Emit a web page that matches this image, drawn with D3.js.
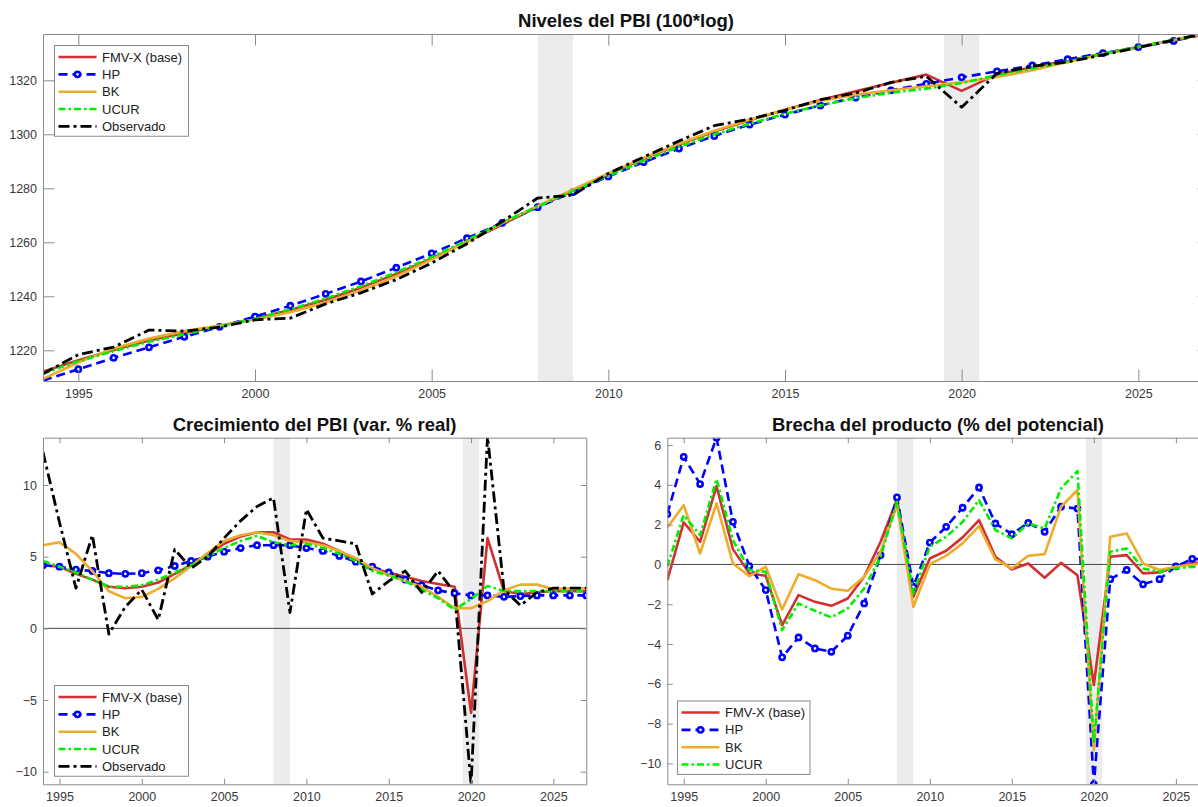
<!DOCTYPE html>
<html>
<head>
<meta charset="utf-8">
<script src="https://cdn.jsdelivr.net/npm/d3@7"></script>
<style>
  body { margin: 0; background: #fff; }
  svg { display: block; font-family: "Liberation Sans", Arial, sans-serif; }
  .tick text { fill: #3a3a3a; font-size: 12.5px; }
</style>
</head>
<body>
<div id="chart"></div>
<script>

// years on the x axis
var years = d3.range(1994, 2028);
var xTicks = [1995, 2000, 2005, 2010, 2015, 2020, 2025];
var shadeSpans = [[2008, 2009], [2019.5, 2020.5]];

// levels (100*log)
var lvlFmv  = [1212.1,1216.3,1220.1,1223.6,1226.3,1229.0,1231.8,1234.9,1238.7,1243.2,1248.3,1254.0,1260.2,1266.6,1273.1,1279.1,1285.2,1290.9,1296.2,1301.0,1305.2,1309.1,1312.7,1315.9,1319.1,1322.1,1316.1,1322.2,1324.8,1327.3,1329.8,1332.3,1334.8,1337.6];
var lvlHp   = [1208.8,1213.0,1217.2,1221.1,1225.0,1228.7,1232.5,1236.5,1240.9,1245.5,1250.6,1255.9,1261.5,1267.2,1273.0,1278.6,1284.4,1289.7,1294.7,1299.4,1303.6,1307.3,1310.7,1313.6,1316.3,1318.7,1321.1,1323.3,1325.5,1327.8,1330.1,1332.3,1334.6,1337.4];
var lvlBk   = [1209.4,1215.5,1220.7,1224.4,1227.1,1229.2,1231.4,1234.1,1237.7,1242.1,1247.4,1253.6,1260.2,1267.1,1273.4,1279.6,1285.5,1291.2,1296.5,1301.3,1305.4,1309.1,1312.3,1314.7,1316.3,1317.8,1319.3,1321.2,1323.7,1326.8,1329.7,1332.3,1334.9,1337.6];
var lvlUcur = [1211.4,1216.0,1219.7,1223.2,1225.9,1228.9,1231.6,1235.2,1239.2,1243.7,1248.9,1254.5,1260.8,1267.3,1273.3,1279.0,1284.6,1290.2,1295.4,1300.0,1303.9,1307.6,1310.7,1313.4,1315.4,1316.9,1319.0,1321.9,1324.4,1327.0,1329.8,1332.4,1335.0,1337.8];
var lvlObs  = [1211.3,1218.4,1221.2,1227.5,1227.1,1228.6,1231.3,1231.9,1237.2,1241.3,1246.2,1252.3,1259.5,1267.7,1276.4,1277.5,1285.5,1291.6,1297.5,1303.2,1305.6,1308.9,1312.8,1315.3,1319.2,1321.5,1310.0,1322.6,1325.2,1326.8,1329.4,1332.2,1334.9,1337.7];

// growth (var. % real)
var grFmv  = [4.4,4.3,3.8,3.4,2.9,2.8,2.9,3.2,3.8,4.4,5.1,5.9,6.4,6.7,6.7,6.2,6.2,5.9,5.4,4.7,4.2,3.9,3.6,3.3,3.1,2.9,-5.9,6.3,2.6,2.4,2.5,2.6,2.6,2.6];
var grHp   = [4.4,4.3,4.1,4.0,3.85,3.8,3.85,4.05,4.35,4.7,5.0,5.35,5.6,5.8,5.8,5.8,5.6,5.4,5.05,4.65,4.3,3.9,3.4,3.0,2.65,2.45,2.3,2.3,2.2,2.25,2.3,2.3,2.3,2.3];
var grBk   = [5.8,6.0,5.2,4.0,2.6,2.1,2.2,2.75,3.5,4.35,5.25,6.1,6.5,6.7,6.5,6.1,6.0,5.8,5.4,4.9,4.2,3.7,3.3,2.9,2.2,1.4,1.4,1.9,2.65,3.05,3.05,2.75,2.8,2.8];
var grUcur = [4.7,4.3,3.9,3.4,2.9,2.9,3.0,3.4,3.9,4.4,5.0,5.6,6.1,6.45,6.0,5.8,5.9,5.6,5.2,4.7,4.0,3.7,3.3,2.7,2.1,1.3,2.05,2.95,2.6,2.6,2.6,2.6,2.6,2.6];
var grObs  = [12.3,7.4,2.8,6.5,-0.4,1.5,2.7,0.6,5.5,4.2,5.0,6.3,7.5,8.5,9.1,1.1,8.3,6.3,6.1,5.9,2.4,3.3,4.0,2.5,4.0,2.5,-10.9,13.4,2.7,1.6,2.5,2.8,2.8,2.8];

// output gap (% del potencial)
var gapFmv  = [-0.79,2.11,1.14,3.94,0.77,-0.45,-0.57,-3.05,-1.54,-1.88,-2.08,-1.71,-0.62,1.14,3.27,-1.62,0.30,0.69,1.36,2.23,0.39,-0.25,0.05,-0.67,0.08,-0.54,-6.06,0.39,0.47,-0.45,-0.40,-0.12,0.08,0.10];
var gapHp   = [2.53,5.41,4.04,6.37,2.14,-0.08,-1.29,-4.67,-3.67,-4.22,-4.39,-3.58,-1.96,0.47,3.37,-1.12,1.10,1.89,2.85,3.87,2.06,1.52,2.09,1.64,2.90,2.81,-11.05,-0.74,-0.28,-1.00,-0.74,-0.10,0.28,0.25];
var gapBk   = [1.86,2.98,0.55,3.07,0.05,-0.59,-0.12,-2.26,-0.49,-0.79,-1.22,-1.32,-0.62,0.64,2.98,-2.13,0.00,0.44,1.06,1.93,0.25,-0.20,0.44,0.52,2.90,3.74,-9.33,1.39,1.56,0.05,-0.28,-0.12,0.00,0.05];
var gapUcur = [-0.10,2.48,1.47,4.29,1.22,-0.28,-0.37,-3.30,-1.96,-2.33,-2.66,-2.21,-1.21,0.39,3.15,-1.46,0.89,1.39,2.14,3.23,1.73,1.31,2.06,1.81,3.82,4.69,-9.00,0.64,0.80,-0.20,-0.37,-0.20,-0.12,-0.10];

var styles = {
  "FMV-X (base)": {color: "#d0302f", dash: null, width: 2.6},
  "HP":           {color: "#0000ff", dash: "9,5", width: 2.6, marker: true},
  "BK":           {color: "#efab2c", dash: null, width: 2.6},
  "UCUR":         {color: "#00ee00", dash: "7,3,2.5,3", width: 2.6},
  "Observado":    {color: "#000000", dash: "11,4,3,4", width: 2.8}
};

var svg = d3.select("#chart").append("svg")
  .attr("width", 1198)
  .attr("height", 807);

var clipId = 0;

function drawPanel(p) {
  var x = d3.scaleLinear().domain([1994, 2027]).range([p.left, p.right]);
  var y = d3.scaleLinear().domain(p.yDomain).range([p.bottom, p.top]);
  var g = svg.append("g");
  var tl = p.tickLen;

  clipId++;
  var cid = "clip" + clipId;
  g.append("clipPath").attr("id", cid)
    .append("rect")
    .attr("x", p.left).attr("y", p.top)
    .attr("width", p.right - p.left).attr("height", p.bottom - p.top);

  // shaded periods
  g.selectAll(".shade")
    .data(shadeSpans)
    .enter().append("rect")
    .attr("x", d => x(d[0]))
    .attr("y", p.top)
    .attr("width", d => x(d[1]) - x(d[0]))
    .attr("height", p.bottom - p.top)
    .attr("fill", "#ececec");

  // zero line
  if (p.zero) {
    g.append("line")
      .attr("x1", p.left).attr("x2", p.right)
      .attr("y1", y(0)).attr("y2", y(0))
      .attr("stroke", "#444").attr("stroke-width", 1);
  }

  var plot = g.append("g").attr("clip-path", "url(#" + cid + ")");
  var line = d3.line().x((d, i) => x(years[i])).y(d => y(d));

  p.series.forEach(function(s) {
    var st = styles[s.name];
    plot.append("path")
      .datum(s.values)
      .attr("d", line)
      .attr("fill", "none")
      .attr("stroke", st.color)
      .attr("stroke-width", st.width)
      .attr("stroke-dasharray", st.dash)
      .attr("stroke-linejoin", "round");
    if (st.marker) {
      plot.selectAll(null)
        .data(s.values)
        .enter().append("circle")
        .attr("cx", (d, i) => x(years[i]))
        .attr("cy", d => y(d))
        .attr("r", 2.6)
        .attr("fill", "#fff")
        .attr("stroke", st.color)
        .attr("stroke-width", 2.6);
    }
  });

  // axes with inward ticks on all four sides
  var axB = g.append("g").attr("transform", "translate(0," + p.bottom + ")")
    .call(d3.axisBottom(x).tickValues(xTicks).tickFormat(d3.format("d")).tickSizeInner(-tl).tickSizeOuter(0).tickPadding(8));
  var axT = g.append("g").attr("transform", "translate(0," + p.top + ")")
    .call(d3.axisTop(x).tickValues(xTicks).tickFormat("").tickSizeInner(-tl).tickSizeOuter(0));
  var axL = g.append("g").attr("transform", "translate(" + p.left + ",0)")
    .call(d3.axisLeft(y).tickValues(p.yTicks).tickFormat(d3.format("d")).tickSizeInner(-tl).tickSizeOuter(0).tickPadding(6));
  var axR = g.append("g").attr("transform", "translate(" + p.right + ",0)")
    .call(d3.axisRight(y).tickValues(p.yTicks).tickFormat("").tickSizeInner(-tl).tickSizeOuter(0));
  [axB, axT, axL, axR].forEach(function(a) {
    a.select(".domain").attr("stroke", "#8a8a8a");
    a.selectAll(".tick line").attr("stroke", "#8a8a8a");
    a.attr("font-family", null).attr("font-size", null);
  });

  // title
  g.append("text")
    .attr("x", (p.left + p.right) / 2)
    .attr("y", p.top - 7)
    .attr("text-anchor", "middle")
    .attr("font-weight", "bold")
    .attr("font-size", "18.5px")
    .attr("fill", "#111")
    .text(p.title);

  // legend
  var lg = p.legend;
  var rowH = 17.35;
  var lgG = g.append("g");
  lgG.append("rect")
    .attr("x", lg.x).attr("y", lg.y)
    .attr("width", lg.w).attr("height", p.series.length * rowH + 4)
    .attr("fill", "#fff").attr("stroke", "#8a8a8a").attr("stroke-width", 1);
  p.series.forEach(function(s, i) {
    var st = styles[s.name];
    var cy = lg.y + 11.5 + i * rowH;
    lgG.append("line")
      .attr("x1", lg.x + 4).attr("x2", lg.x + 42)
      .attr("y1", cy).attr("y2", cy)
      .attr("stroke", st.color)
      .attr("stroke-width", st.width)
      .attr("stroke-dasharray", st.dash);
    if (st.marker) {
      lgG.append("circle").attr("cx", lg.x + 23).attr("cy", cy).attr("r", 2.6)
        .attr("fill", "#fff").attr("stroke", st.color).attr("stroke-width", 2.6);
    }
    lgG.append("text")
      .attr("x", lg.x + 47.5).attr("y", cy + 4.5)
      .attr("font-size", "13px").attr("fill", "#222")
      .text(s.name);
  });
}

drawPanel({
  title: "Niveles del PBI (100*log)",
  left: 43, right: 1209, top: 34, bottom: 381, tickLen: 11.5,
  yDomain: [1208.63, 1337.15], yTicks: [1220, 1240, 1260, 1280, 1300, 1320],
  zero: false,
  legend: {x: 54.5, y: 45.5, w: 134},
  series: [
    {name: "FMV-X (base)", values: lvlFmv},
    {name: "HP", values: lvlHp},
    {name: "BK", values: lvlBk},
    {name: "UCUR", values: lvlUcur},
    {name: "Observado", values: lvlObs}
  ]
});

drawPanel({
  title: "Crecimiento del PBI (var. % real)",
  left: 43, right: 586.3, top: 437.7, bottom: 784.3, tickLen: 5.5,
  yDomain: [-10.88, 13.3], yTicks: [-10, -5, 0, 5, 10],
  zero: true,
  legend: {x: 54.5, y: 685.5, w: 134},
  series: [
    {name: "FMV-X (base)", values: grFmv},
    {name: "HP", values: grHp},
    {name: "BK", values: grBk},
    {name: "UCUR", values: grUcur},
    {name: "Observado", values: grObs}
  ]
});

drawPanel({
  title: "Brecha del producto (% del potencial)",
  left: 667.3, right: 1208.7, top: 437.7, bottom: 784.3, tickLen: 5.5,
  yDomain: [-11.05, 6.37], yTicks: [-10, -8, -6, -4, -2, 0, 2, 4, 6],
  zero: true,
  legend: {x: 677.5, y: 701, w: 132.5},
  series: [
    {name: "FMV-X (base)", values: gapFmv},
    {name: "HP", values: gapHp},
    {name: "BK", values: gapBk},
    {name: "UCUR", values: gapUcur}
  ]
});

</script>
</body>
</html>
